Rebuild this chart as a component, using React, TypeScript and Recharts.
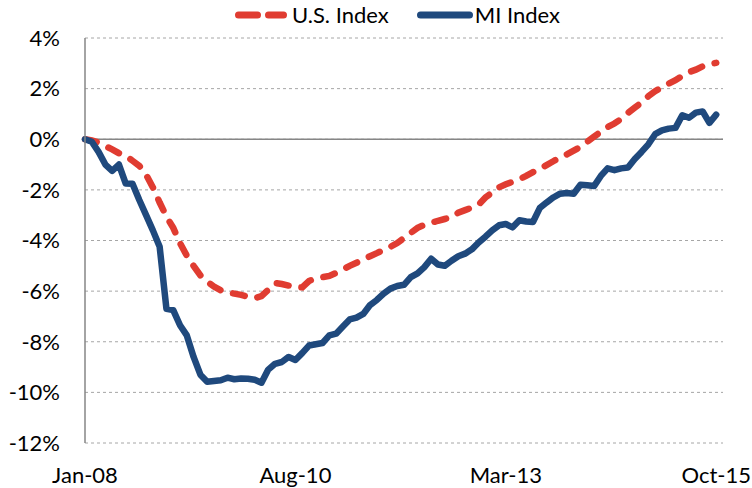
import React from 'react';
import { LineChart, Line, XAxis, YAxis, CartesianGrid, ReferenceLine, Legend } from 'recharts';

const xTickIndex: number[] = [0, 31, 62, 93];
const xTickLabels: string[] = ['Jan-08', 'Aug-10', 'Mar-13', 'Oct-15'];
const yTicks: number[] = [-12, -10, -8, -6, -4, -2, 0, 2, 4];

// Monthly values Jan-08 .. Oct-15 (percent change)
const usIndex: number[] = [
  0, -0.05, -0.13, -0.27, -0.4, -0.55, -0.65, -0.85, -1.05, -1.4,
  -1.9, -2.5, -3.05, -3.5, -4.1, -4.6, -5.0, -5.38, -5.62, -5.82,
  -5.97, -6.05, -6.1, -6.15, -6.22, -6.28, -6.2, -5.95, -5.68, -5.72,
  -5.78, -5.84, -5.85, -5.6, -5.5, -5.45, -5.4, -5.28, -5.15, -5.0,
  -4.88, -4.75, -4.62, -4.5, -4.37, -4.25, -4.1, -3.9, -3.7, -3.5,
  -3.38, -3.3, -3.22, -3.15, -3.08, -2.9, -2.8, -2.7, -2.58, -2.3,
  -2.1, -1.9, -1.78, -1.68, -1.58, -1.45, -1.3, -1.17, -1.02, -0.87,
  -0.72, -0.6, -0.45, -0.3, -0.1, 0.1, 0.3, 0.48, 0.62, 0.8,
  1.04, 1.25, 1.45, 1.7, 1.9, 2.05, 2.2, 2.33, 2.5, 2.65,
  2.75, 2.88, 2.96, 3.02,
];

const miIndex: number[] = [
  0, -0.1, -0.5, -1.0, -1.25, -1.0, -1.75, -1.76, -2.4, -3.0,
  -3.6, -4.25, -6.7, -6.75, -7.35, -7.75, -8.6, -9.3, -9.58, -9.55,
  -9.52, -9.42, -9.48, -9.45, -9.46, -9.5, -9.62, -9.1, -8.87, -8.8,
  -8.6, -8.72, -8.45, -8.15, -8.1, -8.05, -7.75, -7.68, -7.4, -7.12,
  -7.05, -6.9, -6.55, -6.35, -6.1, -5.9, -5.8, -5.75, -5.45, -5.3,
  -5.05, -4.72, -4.95, -5.0, -4.8, -4.62, -4.52, -4.35, -4.08, -3.85,
  -3.6, -3.4, -3.35, -3.48, -3.2, -3.25, -3.27, -2.72, -2.5, -2.3,
  -2.15, -2.12, -2.15, -1.8, -1.82, -1.85, -1.45, -1.15, -1.22, -1.15,
  -1.12, -0.78, -0.5, -0.2, 0.2, 0.35, 0.42, 0.45, 0.95, 0.85,
  1.05, 1.1, 0.65, 0.97,
];

const data = usIndex.map((u, i) => ({ i, us: u, mi: miIndex[i] }));

const FONT = "Lato, 'DejaVu Sans Condensed', sans-serif";
const RED = '#E03C31';
const BLUE = '#1F497D';

const LegendContent = () => (
  <div
    style={{
      display: 'flex',
      alignItems: 'center',
      height: 30,
      paddingLeft: 233,
      fontFamily: FONT,
      fontSize: 22,
      color: '#000',
      lineHeight: '30px',
    }}
  >
    <svg width={57} height={12} style={{ display: 'block' }}>
      <line x1={5.5} y1={6} x2={50.5} y2={6} stroke={RED} strokeWidth={7} strokeDasharray="19 11" strokeLinecap="round" />
    </svg>
    <span style={{ marginLeft: 2 }}>U.S. Index</span>
    <svg width={56} height={12} style={{ display: 'block', marginLeft: 28 }}>
      <line x1={3.5} y1={6} x2={52.5} y2={6} stroke={BLUE} strokeWidth={7} strokeLinecap="round" />
    </svg>
    <span style={{ marginLeft: 2 }}>MI Index</span>
  </div>
);

export default function App() {
  return (
    <div style={{ position: 'absolute', left: 0, top: 0, width: 752, height: 488, background: '#fff' }}>
      <LineChart width={752} height={488} data={data} margin={{ top: 8, right: 29, bottom: 5, left: 0 }}>
        <Legend
          verticalAlign="top"
          height={30}
          content={<LegendContent />}
          wrapperStyle={{ left: 0, top: 0, width: 752 }}
        />
        <CartesianGrid vertical={false} stroke="#A6A6A6" strokeDasharray="3 3" />
        <XAxis
          dataKey="i"
          type="number"
          domain={[0, 94]}
          ticks={xTickIndex}
          tickFormatter={(v: number) => xTickLabels[xTickIndex.indexOf(v)] ?? ''}
          axisLine={false}
          tickLine={false}
          tickSize={0}
          tickMargin={24}
          height={40}
          interval={0}
          tick={{ fill: '#000', fontSize: 22, fontFamily: FONT }}
        />
        <YAxis
          domain={[-12, 4]}
          ticks={yTicks}
          tickFormatter={(v: number) => `${v}%`}
          width={85}
          axisLine={{ stroke: '#868686', strokeWidth: 1.5 }}
          tickLine={false}
          tickSize={0}
          tickMargin={25}
          interval={0}
          tick={{ fill: '#000', fontSize: 22, fontFamily: FONT }}
        />
        <ReferenceLine y={0} stroke="#868686" strokeWidth={1.5} />
        <Line
          dataKey="us"
          stroke={RED}
          strokeWidth={6.5}
          strokeDasharray="12 13"
          strokeLinecap="round"
          dot={false}
          isAnimationActive={false}
          type="linear"
        />
        <Line
          dataKey="mi"
          stroke={BLUE}
          strokeWidth={6.5}
          strokeLinejoin="round"
          strokeLinecap="round"
          dot={false}
          isAnimationActive={false}
          type="linear"
        />
      </LineChart>
    </div>
  );
}
